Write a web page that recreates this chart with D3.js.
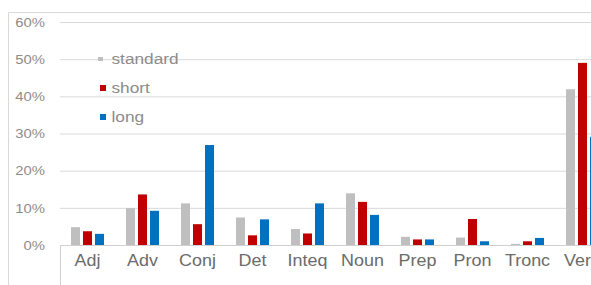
<!DOCTYPE html>
<html>
<head>
<meta charset="utf-8">
<script src="https://cdn.jsdelivr.net/npm/d3@7"></script>
<style>
  html, body { margin: 0; padding: 0; background: #fff; }
  svg { display: block; }
</style>
</head>
<body>
<svg id="chart" width="591" height="285"></svg>
<script>
const categories = ["Adj", "Adv", "Conj", "Det", "Inteq", "Noun", "Prep", "Pron", "Tronc", "Verb"];
const seriesNames = ["standard", "short", "long"];
const standardValues = [4.8, 9.9, 11.2, 7.4, 4.3, 13.9, 2.2, 2.0, 0.3, 41.9];
const shortValues = [3.7, 13.6, 5.6, 2.6, 3.1, 11.6, 1.5, 7.0, 1.0, 49.0];
const longValues = [3.0, 9.2, 26.9, 6.9, 11.2, 8.1, 1.5, 1.0, 1.9, 29.1];
const yTicks = [0, 10, 20, 30, 40, 50, 60];
const colors = ["#bfbfbf", "#c00000", "#0070c0"];

const seriesValues = [standardValues, shortValues, longValues];
const svg = d3.select("#chart");

const x = d3.scaleBand().domain(categories).range([60, 610]).paddingInner(0).paddingOuter(0);
const inner = d3.scaleBand().domain(seriesNames).range([11, 44]).paddingInner(0.25);
const y = d3.scaleLinear().domain([0, 60]).range([245, 22]);
const color = d3.scaleOrdinal().domain(seriesNames).range(colors);

// chart border (top & left)
svg.append("path").attr("d", "M8.5,285 V12.5 H591").attr("fill", "none").attr("stroke", "#d9d9d9").attr("stroke-width", 1);

// gridlines and value axis
const yAxis = d3.axisLeft(y).tickValues(yTicks).tickFormat(d => d + "%").tickSize(0).tickPadding(15);
const gy = svg.append("g").attr("transform", "translate(60,0)").call(yAxis);
gy.select(".domain").remove();
gy.selectAll("text").attr("font-family", "Liberation Sans, Arial, sans-serif").attr("font-size", 13.5)
  .attr("fill", "#8c8c8c").attr("transform", "scale(1.1,1)").attr("x", -15/1.1);
gy.selectAll(".tick").each(function(d) {
  d3.select(this).append("line").attr("x1", 0).attr("x2", 560).attr("stroke", d === 0 ? "#d0d0d0" : "#d9d9d9").attr("stroke-width", 1);
});

// category axis
const xAxis = d3.axisBottom(x).tickSize(0).tickPadding(10);
const gx = svg.append("g").attr("transform", "translate(0,245)").call(xAxis);
gx.select(".domain").remove();
gx.selectAll("text").attr("font-family", "Liberation Sans, Arial, sans-serif").attr("font-size", 16)
  .attr("fill", "#6b6b6b")
  .attr("transform", "scale(1.12,1)");
svg.append("line").attr("x1", 60.5).attr("x2", 60.5).attr("y1", 245).attr("y2", 285).attr("stroke", "#d0d0d0");

// bars
const groups = svg.append("g").selectAll("g").data(categories).join("g")
  .attr("transform", d => `translate(${x(d)},0)`);
groups.selectAll("rect")
  .data((d, i) => seriesNames.map((s, j) => ({ s, v: seriesValues[j][i] })))
  .join("rect")
  .attr("x", d => inner(d.s))
  .attr("width", inner.bandwidth())
  .attr("y", d => y(d.v))
  .attr("height", d => y(0) - y(d.v))
  .attr("fill", d => color(d.s));

// legend
const legendY = [59, 88, 117];
const legend = svg.append("g").selectAll("g").data(seriesNames).join("g")
  .attr("transform", (d, i) => `translate(100,${legendY[i]})`);
legend.append("rect")
  .attr("x", (d, i) => i === 0 ? -2 : 0)
  .attr("y", (d, i) => i === 0 ? -2 : -3)
  .attr("width", (d, i) => i === 0 ? 5 : 6)
  .attr("height", (d, i) => i === 0 ? 4 : 6)
  .attr("fill", d => color(d));
legend.append("text")
  .attr("x", 10).attr("y", 0).attr("dy", "0.35em")
  .attr("font-family", "Liberation Sans, Arial, sans-serif").attr("font-size", 15)
  .attr("fill", "#8c8c8c")
  .attr("transform", "scale(1.15,1)")
  .text(d => d);
</script>
</body>
</html>
